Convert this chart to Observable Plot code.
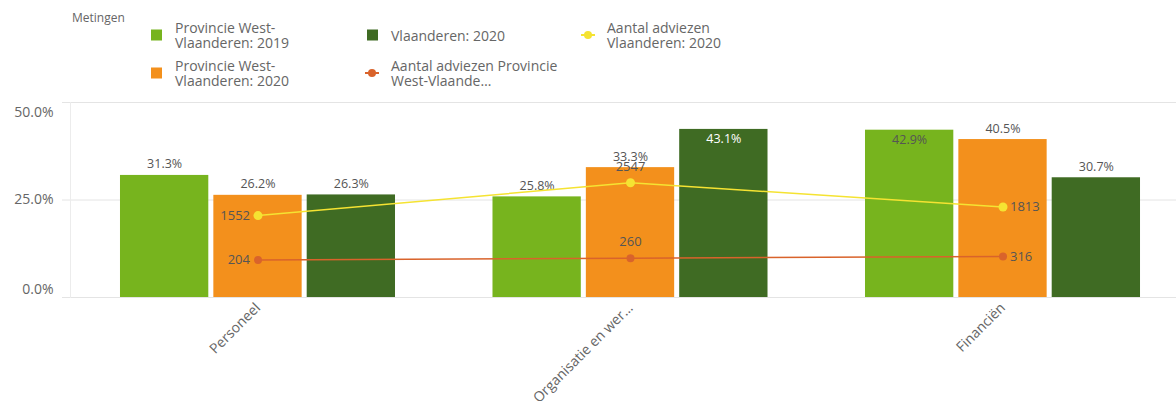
<!DOCTYPE html>
<html>
<head>
<meta charset="utf-8">
<script src="https://cdn.jsdelivr.net/npm/d3@7"></script>
<script src="https://cdn.jsdelivr.net/npm/@observablehq/plot@0.6"></script>
<style>
  body { margin: 0; background: #fff; font-family: "Open Sans", sans-serif; }
  #legend { position: relative; width: 1176px; height: 95px; color: #666; }
  #legend .title { position: absolute; left: 72px; top: 10px; font-size: 12px; line-height: 15px; }
  #legend .items { position: absolute; left: 151px; top: 16px; display: grid; grid-auto-flow: column;
    grid-template-rows: 38px 38px; grid-template-columns: repeat(3, 216px); }
  #legend .item { display: flex; align-items: center; }
  #legend .mk { width: 24px; flex: none; display: flex; align-items: center; }
  #legend .lbl { font-size: 14px; line-height: 15px; white-space: pre-line; }
</style>
</head>
<body>
<div id="legend"></div>
<div id="chart"></div>
<script>
// ---- data ----
const categories = ["Personeel", "Organisatie en wer\u2026", "Financiën"];
const seriesNames = ["Provincie West-Vlaanderen: 2019", "Provincie West-Vlaanderen: 2020", "Vlaanderen: 2020"];
const wvl2019 = [0.313, 0.258, 0.429];
const wvl2020 = [0.262, 0.333, 0.405];
const vl2020 = [0.263, 0.431, 0.307];
const lineNames = ["Aantal adviezen Provincie West-Vlaande\u2026", "Aantal adviezen Vlaanderen: 2020"];
const adviezenWvl = [204, 260, 316];
const adviezenVl = [1552, 2547, 1813];
const adviezenDomain = [-930, 4980]; // hidden secondary axis
const yTicks = [0, 0.25, 0.5];
const legendTitle = "Metingen";
const legendLabels = ["Provincie West-\nVlaanderen: 2019", "Provincie West-\nVlaanderen: 2020", "Vlaanderen: 2020",
  "Aantal adviezen Provincie\nWest-Vlaande\u2026", "Aantal adviezen\nVlaanderen: 2020"];

// ---- styles ----
const barColors = ["#77B41E", "#F3901C", "#3F6B23"];
const lineColors = ["#D9632B", "#F5E332"];
const textColor = "#555";

// ---- legend ----
const legend = document.getElementById("legend");
legend.innerHTML = `<div class="title">${legendTitle}</div><div class="items"></div>`;
const items = legend.querySelector(".items");
const legendMarks = [
  {type: "sq", color: barColors[0]}, {type: "sq", color: barColors[1]}, {type: "sq", color: barColors[2]},
  {type: "ln", color: lineColors[0]}, {type: "ln", color: lineColors[1]}
];
legendLabels.forEach((lab, i) => {
  const m = legendMarks[i];
  const mk = m.type === "sq"
    ? `<svg width="12" height="12"><rect width="11" height="11" x="0" y="0.5" fill="${m.color}"/></svg>`
    : `<svg width="16" height="10" style="margin-left:-3px"><line x1="1" x2="15" y1="5" y2="5" stroke="${m.color}" stroke-width="2"/><circle cx="8" cy="5" r="4" fill="${m.color}"/></svg>`;
  const el = document.createElement("div");
  el.className = "item";
  el.innerHTML = `<div class="mk">${mk}</div><div class="lbl"></div>`;
  el.querySelector(".lbl").textContent = lab;
  items.appendChild(el);
});

// ---- layout / scales ----
const W = 1176, H = 306, ML = 70, MR = 0, MT = 7, MB = 104;
const xOpts = {paddingInner: 0.2617, paddingOuter: 0.1154, align: 0.5814};
const band = d3.scaleBand(categories, [ML, W - MR])
  .paddingInner(xOpts.paddingInner).paddingOuter(xOpts.paddingOuter).align(xOpts.align);
const bw = band.bandwidth();
const sub = d3.scaleBand(seriesNames, [0, bw]).paddingInner(0.054);
const toY = d3.scaleLinear(adviezenDomain, [0, 0.5]);
const pct = d3.format(".1%");

const seriesValues = [wvl2019, wvl2020, vl2020];
const barMarks = [];
seriesNames.forEach((s, j) => {
  const rows = categories.map((c, i) => ({cat: c, value: seriesValues[j][i]}));
  const left = sub(s), right = bw - sub(s) - sub.bandwidth();
  const dx = sub(s) + sub.bandwidth() / 2 - bw / 2;
  barMarks.push(Plot.barY(rows, {x: "cat", y: "value", fill: barColors[j], insetLeft: left, insetRight: right}));
  barMarks.push(Plot.text(rows.filter(d => d.value < 0.42), {
    x: "cat", y: "value", text: d => pct(d.value), dx, dy: -7, lineAnchor: "bottom",
    fill: textColor, fontSize: 12.5
  }));
  barMarks.push(Plot.text(rows.filter(d => d.value >= 0.42), {
    x: "cat", y: "value", text: d => pct(d.value), dx, dy: 5, lineAnchor: "top",
    fill: j === 2 ? "#ffffff" : textColor, fontSize: 12.5
  }));
});

const lineMarks = [];
[adviezenWvl, adviezenVl].forEach((vals, k) => {
  const rows = categories.map((c, i) => ({cat: c, v: vals[i], i}));
  const n = rows.length;
  lineMarks.push(Plot.line(rows, {x: "cat", y: d => toY(d.v), stroke: lineColors[k], strokeWidth: 1.5}));
  lineMarks.push(Plot.dot(rows, {x: "cat", y: d => toY(d.v), fill: lineColors[k], r: k === 1 ? 4.5 : 4}));
  lineMarks.push(Plot.text(rows.filter(d => d.i === 0), {x: "cat", y: d => toY(d.v), text: d => String(d.v),
    textAnchor: "end", dx: -8, fill: textColor, fontSize: 13}));
  lineMarks.push(Plot.text(rows.filter(d => d.i > 0 && d.i < n - 1), {x: "cat", y: d => toY(d.v), text: d => String(d.v),
    dy: -16, fill: textColor, fontSize: 13}));
  lineMarks.push(Plot.text(rows.filter(d => d.i === n - 1), {x: "cat", y: d => toY(d.v), text: d => String(d.v),
    textAnchor: "start", dx: 7, fill: textColor, fontSize: 13}));
});

const chart = Plot.plot({
  width: W, height: H,
  marginLeft: ML, marginRight: MR, marginTop: MT, marginBottom: MB,
  style: {fontFamily: "'Open Sans', sans-serif", fontSize: "14px", color: "#666", background: "#fff"},
  x: {domain: categories, paddingInner: xOpts.paddingInner, paddingOuter: xOpts.paddingOuter, align: xOpts.align, round: false},
  y: {domain: [0, 0.5], round: false},
  marks: [
    Plot.gridY(yTicks, {stroke: "#e4e4e4", strokeOpacity: 1, insetLeft: -8}),
    Plot.frame({anchor: "left", stroke: "#ececec"}),
    ...barMarks,
    ...lineMarks,
    Plot.axisX({tickRotate: -45, tickSize: 0, tickPadding: 8, label: null, fill: "#666", fontSize: 14}),
    Plot.axisY({ticks: [yTicks[1]], tickFormat: pct, tickSize: 0, tickPadding: 17, label: null, fill: "#666", fontSize: 14}),
    Plot.axisY({ticks: [yTicks[2]], tickFormat: pct, tickSize: 0, tickPadding: 17, label: null, fill: "#666", fontSize: 14, dy: 10}),
    Plot.axisY({ticks: [yTicks[0]], tickFormat: pct, tickSize: 0, tickPadding: 17, label: null, fill: "#666", fontSize: 14, dy: -8})
  ]
});
document.getElementById("chart").appendChild(chart);
</script>
</body>
</html>
